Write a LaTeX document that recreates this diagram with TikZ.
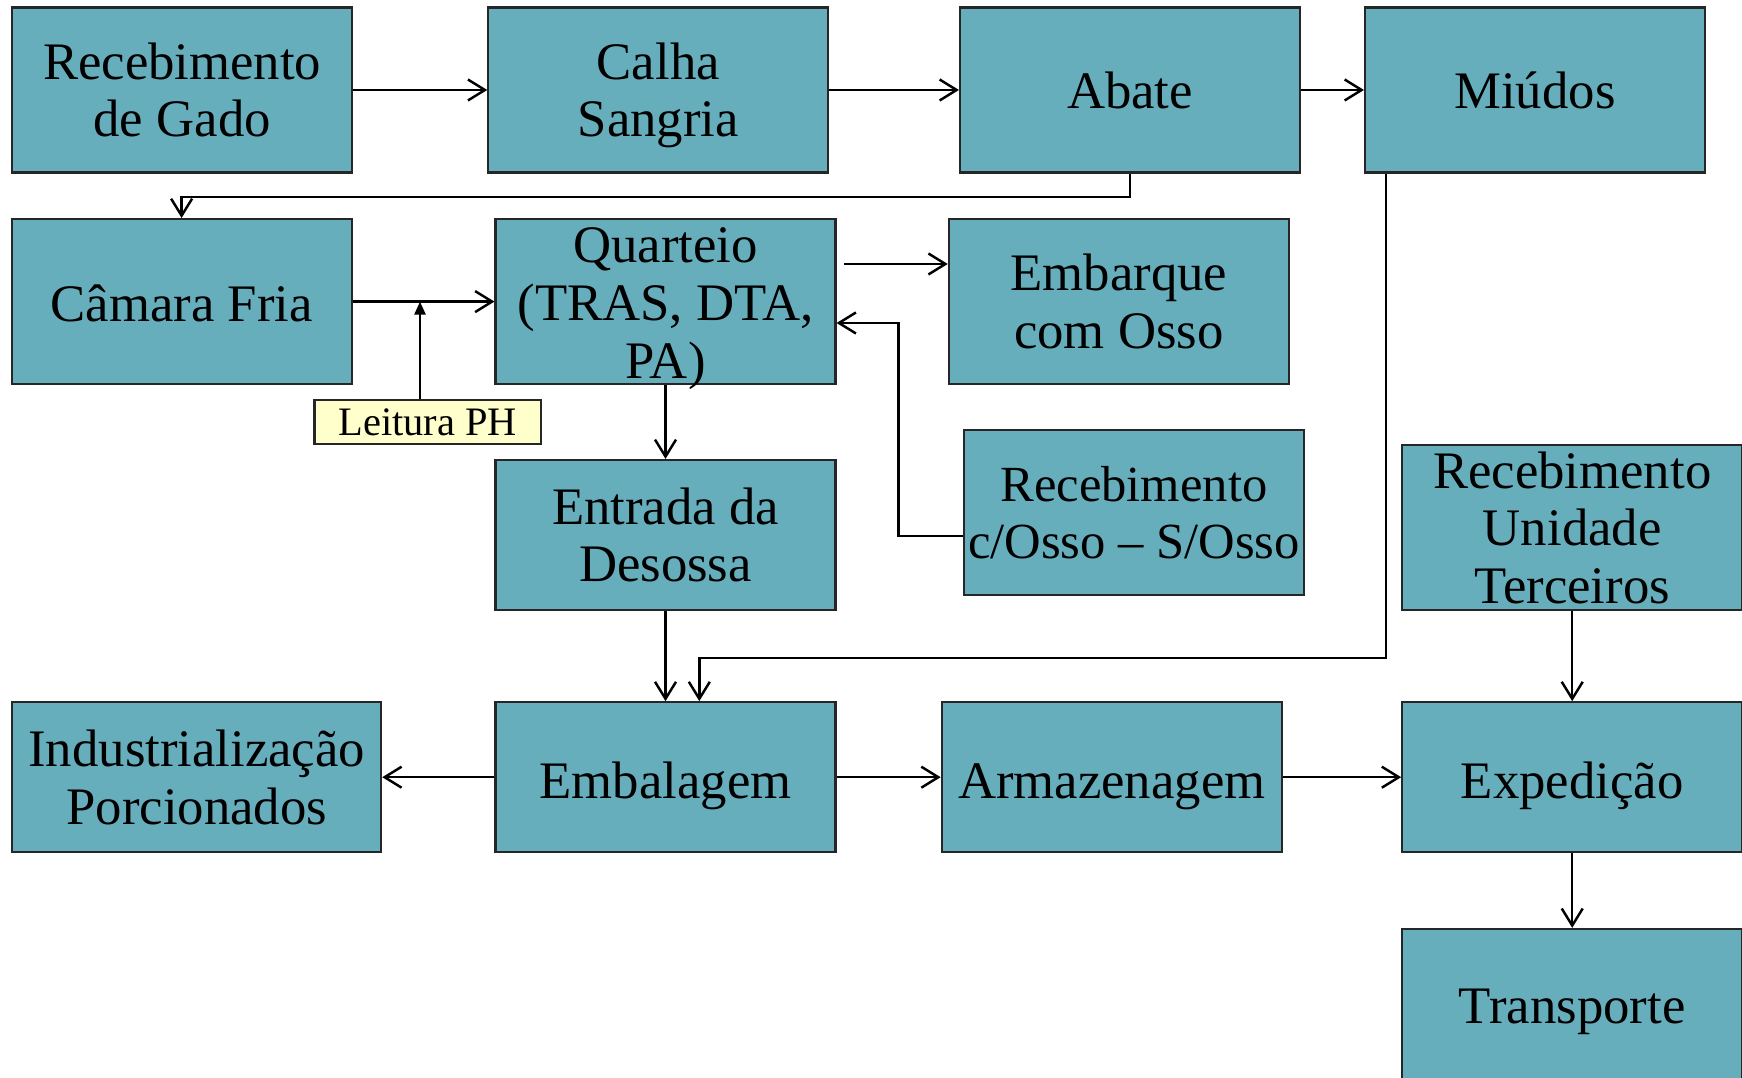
\documentclass[tikz,border=0pt]{standalone}
\usepackage{fontspec}
\setmainfont{Liberation Serif}
\usetikzlibrary{arrows.meta}

\definecolor{caixa}{RGB}{103,174,189}
\definecolor{nota}{RGB}{255,255,204}
\tikzset{
  etapa/.style={draw=black!85, line width=0.6pt, fill=caixa, align=center, inner sep=0pt,
    minimum width=3.4cm, minimum height=1.65cm, font=\fontsize{15}{16.4}\selectfont},
  baixa/.style={etapa, minimum height=1.5cm},
  seta/.style={line width=0.7pt, -{Straight Barb[length=1.7mm,width=2.1mm]}},
  tri/.style={line width=0.7pt, -{Triangle[length=1.3mm,width=1.1mm]}},
}

\begin{document}
\begin{tikzpicture}
\useasboundingbox (0,0) rectangle (17.42,10.77);

\node[etapa, text height=26.6pt, text depth=0pt] (RG) at (1.822,9.87)  {Recebimento\\de Gado};
\node[etapa, text height=26.6pt, text depth=0pt] (CS) at (6.583,9.87)  {Calha\\Sangria};
\node[etapa] (AB) at (11.30,9.87)  {Abate};
\node[etapa] (MI) at (15.35,9.87)  {Miúdos};

\node[etapa, text height=11.5pt] (CF) at (1.816,7.754) {Câmara Fria};
\node[etapa, text height=43.6pt, text depth=0pt] (QU) at (6.655,7.754) {Quarteio\\(TRAS, DTA,\\PA)};
\node[etapa] (EO) at (11.188,7.754) {Embarque\\com Osso};

\node[draw=black!85, line width=0.6pt, fill=nota, inner sep=0pt, minimum width=2.267cm,
  minimum height=0.444cm, font=\fontsize{11.5}{13}\selectfont] (LP) at (4.278,6.548) {Leitura PH};
\node[baixa] (ED) at (6.655,5.42) {Entrada da\\Desossa};
\node[etapa, font=\fontsize{14.4}{16.4}\selectfont] (RC) at (11.339,5.642) {Recebimento\\c/Osso -- S/Osso};
\node[etapa] (RU) at (15.722,5.492) {Recebimento\\Unidade\\Terceiros};

\node[baixa, minimum width=3.69cm] (IP) at (1.967,2.998) {Industrialização\\Porcionados};
\node[baixa, text height=15.4pt] (EM) at (6.655,2.998) {Embalagem};
\node[baixa, text height=15.4pt] (AR) at (11.117,2.998) {Armazenagem};
\node[baixa, text height=15.4pt] (EX) at (15.722,2.998) {Expedição};
\node[etapa] (TR) at (15.722,0.656) {Transporte};

\draw[seta] (RG) -- (CS);
\draw[seta] (CS) -- (AB);
\draw[seta] (AB) -- (MI);
\draw[seta] (AB.south) -- ++(0,-0.233) -| (CF.north);
\draw[seta] (CF) -- (QU);
\coordinate (ph) at ([xshift=-0.078cm]LP.north);
\draw[tri] (ph) -- (ph |- CF.east);
\coordinate (q1) at ([shift={(0.075,0.376)}]QU.east);
\draw[seta] (q1) -- (q1 -| EO.west);
\draw[seta] ([yshift=-0.232cm]RC.west) -- ++(-0.644,0) |- ([yshift=-0.214cm]QU.east);
\draw[seta] (QU) -- (ED);
\draw[seta] (ED) -- (EM);
\draw[seta] ([xshift=0.22cm]MI.south west) -- ++(0,-4.845) -| ([xshift=0.338cm]EM.north);
\draw[seta] (EM) -- (IP);
\draw[seta] (EM) -- (AR);
\draw[seta] (AR) -- (EX);
\draw[seta] (RU) -- (EX);
\draw[seta] (EX) -- (TR);
\end{tikzpicture}
\end{document}
